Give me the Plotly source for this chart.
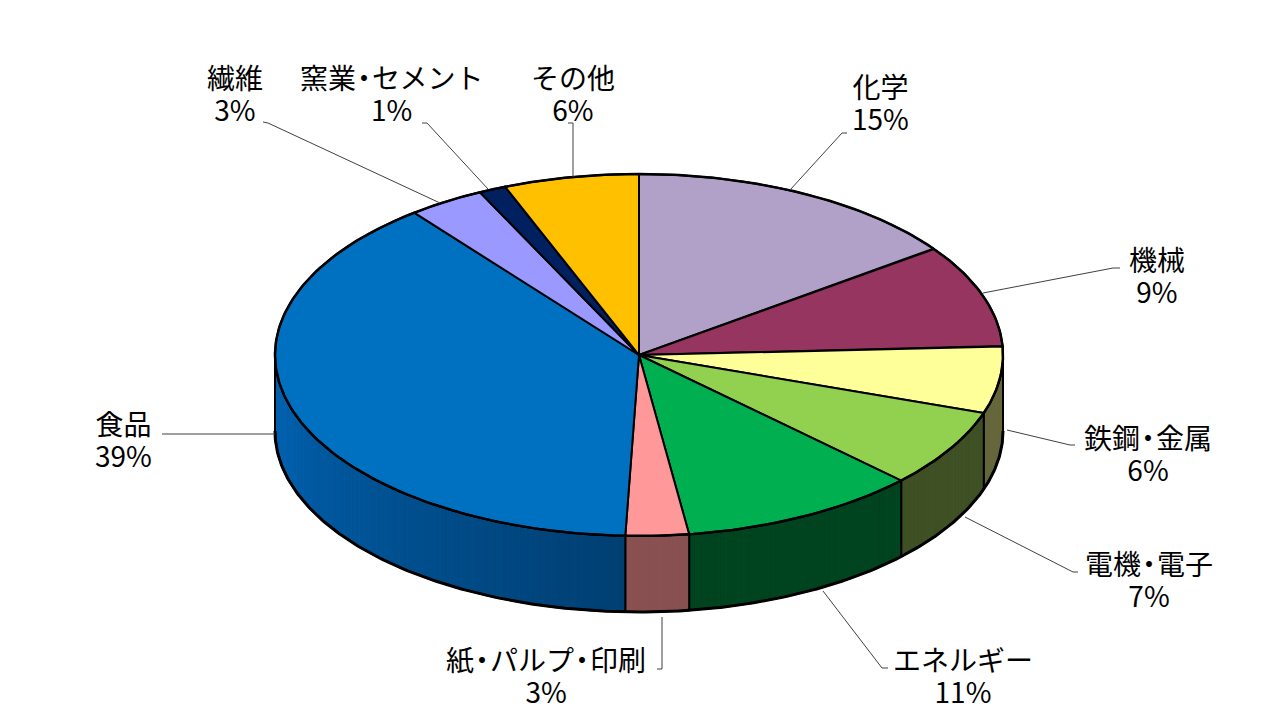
# 3D-style pie chart of shares by industry

import numpy as np
import plotly.graph_objects as go

# data (clockwise from 12 o'clock)

categories = ['化学', '機械', '鉄鋼・金属', '電機・電子', 'エネルギー',
              '紙・パルプ・印刷', '食品', '繊維', '窯業・セメント', 'その他']
shares = [15.0, 9.2, 6.0, 7.0, 10.6, 2.8, 38.8, 3.4, 1.2, 6.0]

# colours of the top face and of the side wall

top_colors = ['#B1A0C7', '#953560', '#FFFF99', '#92D050', '#00B050',
              '#FF9999', '#0070C0', '#9999FF', '#002060', '#FFC000']
side_colors = ['#6A5F78', '#5A2039', '#66663C', '#3E5024', '#00431F',
               '#885050', '#003E70', '#5C5C99', '#001339', '#997300']

# pie geometry (pixels, y going down)

cx, cy = 639, 355
rx, ry = 364, 181
depth = 76


def top_pt(deg):
    t = np.radians(deg)
    return cx + rx * np.sin(t), cy - ry * np.cos(t)


def shade(hex_color, f):
    r, g, b = (int(hex_color[i:i + 2], 16) for i in (1, 3, 5))
    return 'rgb({},{},{})'.format(*(min(255, int(round(c * f))) for c in (r, g, b)))


def narrow_dots(s):
    # make the middle dot look half width, like the original font
    out = ''
    for k, ch in enumerate(s):
        if ch == '・' or (k + 1 < len(s) and s[k + 1] == '・'):
            out += f'<span style="letter-spacing:-6px">{ch}</span>'
        else:
            out += ch
    return out


total = sum(shares)
edges = np.concatenate([[0], np.cumsum(shares) / total * 360])

data = []

# side walls (only the front half, 90..270 deg, is visible)
for i, cat in enumerate(categories):
    lo, hi = max(edges[i], 90), min(edges[i + 1], 270)
    if hi <= lo:
        continue
    n = max(2, int(np.ceil(hi - lo)))
    th = np.linspace(lo, hi, n + 1)
    for a, b in zip(th[:-1], th[1:]):
        f = 1 + 0.55 * np.clip(((a + b) / 2 - 180) / 80, 0, 1)
        col = shade(side_colors[i], f)
        xa, ya = top_pt(a)
        xb, yb = top_pt(b)
        data.append(go.Scatter(x=[xa, xb, xb, xa, xa],
                               y=[ya, yb, yb + depth, ya + depth, ya],
                               mode='lines', fill='toself', fillcolor=col,
                               line=dict(color=col, width=1),
                               hoverinfo='skip'))
    arc = np.linspace(lo, hi, 200)
    xs, ys = top_pt(arc)
    ox = np.concatenate([xs, xs[::-1], xs[:1]])
    oy = np.concatenate([ys, ys[::-1] + depth, ys[:1]])
    data.append(go.Scatter(x=ox, y=oy, mode='lines',
                           line=dict(color='black', width=2),
                           hoverinfo='skip'))

# outer silhouette, a bit heavier
arc = np.linspace(90, 270, 300)
xs, ys = top_pt(arc)
data.append(go.Scatter(x=xs, y=ys + depth, mode='lines',
                       line=dict(color='black', width=3), hoverinfo='skip'))

# top face slices
for i, cat in enumerate(categories):
    arc = np.linspace(edges[i], edges[i + 1], 200)
    xs, ys = top_pt(arc)
    data.append(go.Scatter(x=np.concatenate([[cx], xs, [cx]]),
                           y=np.concatenate([[cy], ys, [cy]]),
                           mode='lines', fill='toself',
                           fillcolor=top_colors[i],
                           line=dict(color='black', width=2),
                           name=cat,
                           hovertemplate=f'{cat}: {shares[i]:.0f}%<extra></extra>'))

arc = np.linspace(0, 360, 400)
xs, ys = top_pt(arc)
data.append(go.Scatter(x=xs, y=ys, mode='lines',
                       line=dict(color='black', width=2.5), hoverinfo='skip'))

# data labels and leader lines

label_pos = [(880, 102), (1157, 275), (1148, 453), (1149, 579), (963, 675),
             (546, 675), (123, 439), (235, 93), (392, 93), (573, 93)]
leaders = [
    [(847, 133), (842, 133), (790, 190)],
    [(1120, 268), (1113, 268), (983, 293)],
    [(1075, 445), (1070, 445), (1007, 430)],
    [(1078, 572), (1073, 572), (965, 517)],
    [(888, 668), (882, 668), (823, 591)],
    [(657, 669), (662, 669), (662, 617)],
    [(162, 434), (275, 434)],
    [(263, 122), (268, 123), (440, 203)],
    [(422, 123), (427, 123), (488, 189)],
    [(568, 123), (573, 123), (573, 177)],
]

# base size sets the line spacing, the span sets the glyph size
label_font = dict(family='Noto Sans CJK JP', size=24.5, color='black')
big = '<span style="font-size:28px">{}</span>'

annotations = []
for cat, v, (lx, ly) in zip(categories, shares, label_pos):
    text = big.format(narrow_dots(cat)) + '<br>' + big.format(f'{v:.0f}%')
    annotations.append(dict(x=lx, y=ly, xref='x', yref='y',
                            text=text, showarrow=False,
                            xanchor='center', yanchor='middle',
                            font=label_font))

shapes = []
for pts in leaders:
    path = 'M ' + ' L '.join(f'{x},{y}' for x, y in pts)
    shapes.append(dict(type='path', path=path, xref='x', yref='y',
                       line=dict(color='#404040', width=1), layer='above'))

# the page adds an 8px body margin, so the axes start at 8
layout = go.Layout(width=1280, height=720,
                   margin=dict(l=0, r=0, t=0, b=0),
                   paper_bgcolor='white', plot_bgcolor='white',
                   showlegend=False,
                   xaxis=dict(range=[8, 1288], visible=False, fixedrange=True),
                   yaxis=dict(range=[728, 8], visible=False, fixedrange=True),
                   annotations=annotations, shapes=shapes,
                   hovermode='closest')

fig = go.Figure(data=data, layout=layout)
fig.write_html('out.html')
